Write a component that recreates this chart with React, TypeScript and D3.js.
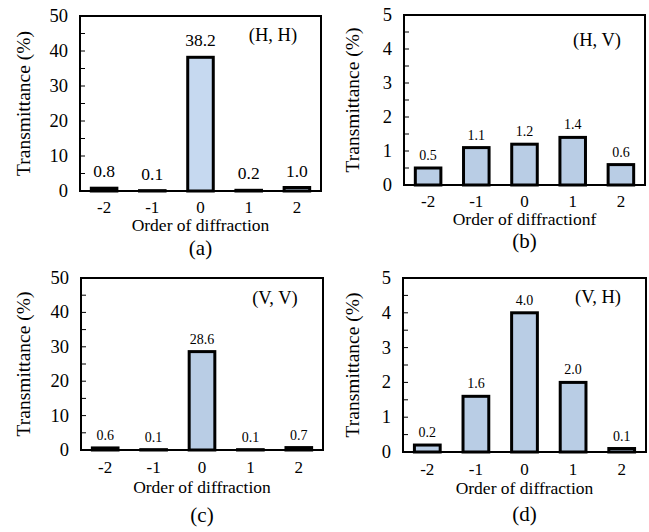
import React from "react";
import * as d3 from "d3";

// diffraction orders on the x axis
const orders = ["-2", "-1", "0", "1", "2"];

// transmittance (%) per panel
const hhValues = [0.8, 0.1, 38.2, 0.2, 1.0];
const hvValues = [0.5, 1.1, 1.2, 1.4, 0.6];
const vvValues = [0.6, 0.1, 28.6, 0.1, 0.7];
const vhValues = [0.2, 1.6, 4.0, 2.0, 0.1];

const bigTicks = [0, 10, 20, 30, 40, 50];
const smallTicks = [0, 1, 2, 3, 4, 5];

const panels = [
  { values: hhValues, ticks: bigTicks, minor: 5, tag: "(H, H)", xTitle: "Order of diffraction", caption: "(a)",
    left: 80, right: 321, top: 16, bottom: 191, tickY: 207, titleY: 225, capY: 248, yTitleX: 23, tagY: 35,
    fill: "#c6d9f0", valSize: 17.5, valGap: 11 },
  { values: hvValues, ticks: smallTicks, minor: 0.5, tag: "(H, V)", xTitle: "Order of diffractionf", caption: "(b)",
    left: 404, right: 645, top: 15, bottom: 185, tickY: 201, titleY: 219, capY: 241, yTitleX: 352, tagY: 40,
    fill: "#b9cde5", valSize: 14, valGap: 8 },
  { values: vvValues, ticks: bigTicks, minor: 5, tag: "(V, V)", xTitle: "Order of diffraction", caption: "(c)",
    left: 81, right: 323, top: 278, bottom: 450, tickY: 467, titleY: 487, capY: 515, yTitleX: 23, tagY: 298,
    fill: "#b9cde5", valSize: 14, valGap: 8 },
  { values: vhValues, ticks: smallTicks, minor: 0.5, tag: "(V, H)", xTitle: "Order of diffraction", caption: "(d)",
    left: 403, right: 646, top: 278, bottom: 452, tickY: 469, titleY: 488, capY: 514, yTitleX: 352, tagY: 297,
    fill: "#b9cde5", valSize: 14, valGap: 8 },
];

const font = "'Liberation Serif', 'DejaVu Serif', serif";

function Panel({ p }: { p: any }) {
  const x = d3.scaleBand().domain(orders).range([p.left, p.right]).paddingInner(0.47).paddingOuter(0.235);
  const maxV = p.ticks[p.ticks.length - 1];
  const y = d3.scaleLinear().domain([0, maxV]).range([p.bottom, p.top]);
  const minorTicks = d3.range(p.minor, maxV, p.minor);
  const midY = (p.top + p.bottom) / 2;

  return (
    <g fill="#000">
      {/* inner tick marks */}
      {minorTicks.map((t: number) => (
        <line key={t} x1={p.left} x2={p.left + 5} y1={y(t)} y2={y(t)} stroke="#000" strokeWidth={1} />
      ))}
      {/* bars */}
      {p.values.map((v: number, i: number) => (
        <rect
          key={i}
          x={x(orders[i])}
          y={y(v)}
          width={x.bandwidth()}
          height={Math.max(0, y(0) - y(v))}
          fill={p.fill}
          stroke="#000"
          strokeWidth={3}
        />
      ))}
      {/* value labels */}
      {p.values.map((v: number, i: number) => (
        <text
          key={"l" + i}
          x={(x(orders[i]) as number) + x.bandwidth() / 2}
          y={y(v) - p.valGap}
          textAnchor="middle"
          fontSize={p.valSize}
        >
          {v.toFixed(1)}
        </text>
      ))}
      <rect x={p.left} y={p.top} width={p.right - p.left} height={p.bottom - p.top} fill="none" stroke="#000" strokeWidth={2} />
      {/* y tick labels */}
      {p.ticks.map((t: number) => (
        <text key={"y" + t} x={p.left - 12} y={y(t)} textAnchor="end" dominantBaseline="central" fontSize={18.5}>
          {t}
        </text>
      ))}
      {/* x tick labels */}
      {orders.map((o) => (
        <text key={"x" + o} x={(x(o) as number) + x.bandwidth() / 2} y={p.tickY} textAnchor="middle" dominantBaseline="central" fontSize={17}>
          {o}
        </text>
      ))}
      <text x={p.right - 48} y={p.tagY} textAnchor="middle" dominantBaseline="central" fontSize={18.5}>
        {p.tag}
      </text>
      <text x={(p.left + p.right) / 2} y={p.titleY} textAnchor="middle" dominantBaseline="central" fontSize={17.5}>
        {p.xTitle}
      </text>
      <text x={(p.left + p.right) / 2} y={p.capY} textAnchor="middle" dominantBaseline="central" fontSize={21}>
        {p.caption}
      </text>
      <text
        transform={`translate(${p.yTitleX},${midY}) rotate(-90)`}
        textAnchor="middle"
        dominantBaseline="central"
        fontSize={19.5}
      >
        Transmittance (%)
      </text>
    </g>
  );
}

export default function App() {
  return (
    <svg
      width={649}
      height={532}
      style={{ position: "absolute", left: 0, top: 0, background: "#fff", fontFamily: font }}
    >
      <rect width={649} height={532} fill="#fff" />
      {panels.map((p, i) => (
        <Panel key={i} p={p} />
      ))}
    </svg>
  );
}
